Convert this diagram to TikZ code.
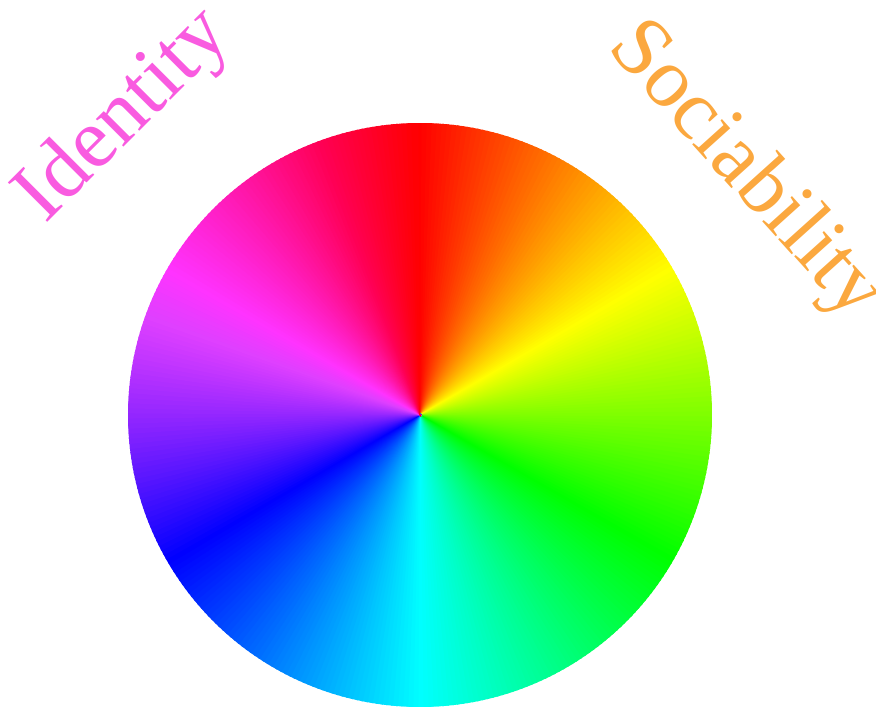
\documentclass[tikz,border=0pt]{standalone}
\usepackage{fontspec}
\setmainfont{Liberation Serif}
\usetikzlibrary{calc}
\definecolor{identcol}{HTML}{F95BE0}
\definecolor{sociocol}{HTML}{FBA83F}
\begin{document}
\begin{tikzpicture}[x=1pt,y=1pt, lbl/.style={font=\fontsize{85}{85}\selectfont, inner sep=0pt}]
\useasboundingbox (0,0) rectangle (876,709);
\coordinate (c) at (420,294);
% coarse underlay hides seams of the fine wedges
\foreach \h in {0,5,...,355}{
  \pgfmathsetmacro{\sat}{1-0.25*max(0,1-abs(\h-290)/50)}
  \definecolor{wc}{Hsb}{\h,\sat,1}
  \fill[wc] ($(c)+({270-\h}:4)$) -- ($(c)+({90-\h+3.5}:291)$) arc[start angle={90-\h+3.5}, end angle={90-\h-3.5}, radius=291] -- cycle;
}
\foreach \h in {0,...,359}{
  \pgfmathsetmacro{\sat}{1-0.25*max(0,1-abs(\h-290)/50)}
  \definecolor{wc}{Hsb}{\h,\sat,1}
  \fill[wc] ($(c)+({270-\h}:1.5)$) -- ($(c)+({90-\h+0.7}:292)$) arc[start angle={90-\h+0.7}, end angle={90-\h-0.7}, radius=292] -- cycle;
}
\node[lbl, text=identcol, rotate=45] (identity) at (125,592) {Identity};
\node[lbl, text=sociocol, rotate=-48] (sociability) at (745,537) {Sociability};
\end{tikzpicture}
\end{document}
